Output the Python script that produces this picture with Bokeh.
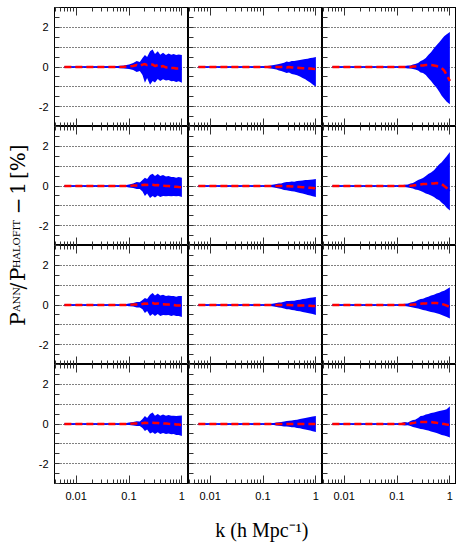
import math
from bokeh.plotting import figure
from bokeh.models import GridBox, FixedTicker, LogAxis, Range1d, CustomJSTickFormatter
from bokeh.embed import file_html
from bokeh.resources import INLINE
from bokeh.core.properties import value

# ---------------- data ----------------
k = [0.006, 0.01, 0.02, 0.04, 0.06, 0.08, 0.1, 0.12, 0.14, 0.16, 0.18, 0.2, 0.22,
     0.25, 0.28, 0.31, 0.35, 0.39, 0.44, 0.5, 0.56, 0.63, 0.7, 0.78, 0.87, 1.0]

upper_r0c0 = [0.03, 0.03, 0.03, 0.04, 0.05, 0.07, 0.12, 0.2, 0.3, 0.25, 0.45, 0.6, 0.5, 0.8, 0.88, 0.65, 0.8, 0.62, 0.72, 0.6, 0.68, 0.62, 0.65, 0.6, 0.63, 0.6]
lower_r0c0 = [-0.03, -0.03, -0.03, -0.04, -0.05, -0.07, -0.1, -0.15, -0.25, -0.2, -0.4, -0.8, -0.55, -0.9, -0.7, -0.78, -0.6, -0.7, -0.62, -0.68, -0.65, -0.72, -0.7, -0.75, -0.72, -0.8]
mean_r0c0 = [0, 0, 0, 0, 0, 0.01, 0.03, 0.05, 0.1, 0.05, 0.12, 0.15, 0.1, 0.15, 0.12, 0.05, 0.1, 0.0, 0.05, -0.02, 0.0, -0.05, -0.05, -0.08, -0.08, -0.12]

upper_r0c1 = [0.03] * 6 + [0.04, 0.05, 0.07, 0.1, 0.12, 0.15, 0.18, 0.22, 0.28, 0.25, 0.3, 0.3, 0.33, 0.35, 0.38, 0.4, 0.42, 0.45, 0.47, 0.5]
lower_r0c1 = [-0.03] * 6 + [-0.04, -0.05, -0.07, -0.1, -0.12, -0.18, -0.2, -0.25, -0.3, -0.28, -0.35, -0.38, -0.42, -0.48, -0.55, -0.62, -0.7, -0.78, -0.88, -1.0]
mean_r0c1 = [0] * 6 + [0, 0, 0, 0, 0, 0, 0, 0, -0.02, 0, -0.02, -0.03, -0.04, -0.05, -0.06, -0.06, -0.08, -0.08, -0.09, -0.1]

upper_r0c2 = [0.03] * 6 + [0.03, 0.04, 0.05, 0.07, 0.08, 0.12, 0.15, 0.2, 0.3, 0.35, 0.45, 0.6, 0.75, 0.95, 1.1, 1.25, 1.4, 1.55, 1.65, 1.76]
lower_r0c2 = [-0.03] * 6 + [-0.03, -0.04, -0.05, -0.07, -0.08, -0.1, -0.12, -0.18, -0.28, -0.3, -0.4, -0.55, -0.7, -0.9, -1.05, -1.25, -1.45, -1.6, -1.75, -1.88]
mean_r0c2 = [0] * 6 + [0, 0, 0, 0, 0, 0.02, 0.03, 0.05, 0.07, 0.08, 0.1, 0.1, 0.1, 0.08, 0.05, 0.0, -0.05, -0.18, -0.4, -0.7]

upper_r1c0 = [0.03] * 6 + [0.08, 0.12, 0.2, 0.18, 0.3, 0.42, 0.35, 0.55, 0.62, 0.5, 0.6, 0.5, 0.55, 0.48, 0.5, 0.45, 0.45, 0.42, 0.45, 0.42]
lower_r1c0 = [-0.03] * 6 + [-0.07, -0.1, -0.15, -0.15, -0.28, -0.5, -0.38, -0.6, -0.5, -0.58, -0.48, -0.55, -0.5, -0.52, -0.5, -0.52, -0.5, -0.52, -0.5, -0.55]
mean_r1c0 = [0] * 6 + [0.01, 0.02, 0.03, 0.03, 0.05, 0.06, 0.05, 0.07, 0.06, 0.04, 0.05, 0.02, 0.02, 0, 0, -0.02, -0.03, -0.04, -0.05, -0.06]

upper_r1c1 = [0.03] * 6 + [0.03, 0.04, 0.05, 0.07, 0.1, 0.12, 0.12, 0.18, 0.2, 0.2, 0.23, 0.22, 0.25, 0.26, 0.28, 0.3, 0.3, 0.32, 0.33, 0.35]
lower_r1c1 = [-0.03] * 6 + [-0.03, -0.04, -0.05, -0.07, -0.1, -0.12, -0.15, -0.2, -0.22, -0.24, -0.26, -0.28, -0.32, -0.35, -0.38, -0.42, -0.45, -0.48, -0.52, -0.55]
mean_r1c1 = [0] * 14 + [-0.01, -0.01, -0.02, -0.03, -0.04, -0.05, -0.06, -0.07, -0.08, -0.09, -0.1, -0.12]

upper_r1c2 = [0.03] * 6 + [0.03, 0.04, 0.06, 0.08, 0.12, 0.15, 0.22, 0.3, 0.35, 0.4, 0.5, 0.6, 0.68, 0.8, 0.95, 1.1, 1.2, 1.35, 1.5, 1.72]
lower_r1c2 = [-0.03] * 6 + [-0.03, -0.04, -0.05, -0.07, -0.1, -0.12, -0.18, -0.2, -0.25, -0.3, -0.38, -0.42, -0.48, -0.55, -0.65, -0.72, -0.85, -0.95, -1.1, -1.24]
mean_r1c2 = [0] * 6 + [0, 0, 0, 0, 0.01, 0.02, 0.04, 0.06, 0.08, 0.1, 0.1, 0.11, 0.12, 0.13, 0.15, 0.14, 0.1, 0.0, -0.1, -0.25]

upper_r2c0 = [0.03] * 6 + [0.07, 0.1, 0.15, 0.15, 0.25, 0.35, 0.3, 0.5, 0.6, 0.48, 0.58, 0.48, 0.52, 0.45, 0.48, 0.45, 0.45, 0.42, 0.45, 0.45]
lower_r2c0 = [-0.03] * 6 + [-0.06, -0.08, -0.12, -0.12, -0.22, -0.4, -0.3, -0.55, -0.45, -0.55, -0.45, -0.55, -0.5, -0.52, -0.5, -0.55, -0.52, -0.55, -0.55, -0.6]
mean_r2c0 = [0] * 6 + [0.01, 0.02, 0.03, 0.03, 0.05, 0.08, 0.06, 0.1, 0.1, 0.06, 0.08, 0.04, 0.04, 0.02, 0.02, 0, 0, -0.02, -0.02, -0.03]

upper_r2c1 = [0.03] * 6 + [0.03, 0.04, 0.05, 0.07, 0.1, 0.12, 0.12, 0.16, 0.2, 0.2, 0.22, 0.22, 0.25, 0.27, 0.3, 0.32, 0.34, 0.36, 0.38, 0.4]
lower_r2c1 = [-0.03] * 6 + [-0.03, -0.04, -0.05, -0.07, -0.1, -0.12, -0.14, -0.18, -0.22, -0.22, -0.25, -0.26, -0.3, -0.32, -0.35, -0.38, -0.4, -0.43, -0.46, -0.5]
mean_r2c1 = [0] * 16 + [-0.01, -0.01, -0.02, -0.02, -0.03, -0.03, -0.04, -0.04, -0.05, -0.05]

upper_r2c2 = [0.03] * 6 + [0.03, 0.04, 0.06, 0.08, 0.12, 0.15, 0.18, 0.25, 0.3, 0.32, 0.38, 0.42, 0.48, 0.52, 0.58, 0.62, 0.68, 0.72, 0.8, 0.9]
lower_r2c2 = [-0.03] * 6 + [-0.03, -0.04, -0.05, -0.07, -0.1, -0.12, -0.15, -0.18, -0.22, -0.25, -0.28, -0.32, -0.35, -0.38, -0.42, -0.45, -0.5, -0.55, -0.6, -0.68]
mean_r2c2 = [0] * 6 + [0, 0, 0, 0, 0.01, 0.02, 0.03, 0.05, 0.06, 0.07, 0.08, 0.09, 0.1, 0.1, 0.1, 0.08, 0.05, 0.02, -0.03, -0.1]

upper_r3c0 = [0.03] * 6 + [0.07, 0.1, 0.14, 0.12, 0.25, 0.4, 0.3, 0.5, 0.58, 0.42, 0.5, 0.42, 0.48, 0.42, 0.45, 0.42, 0.42, 0.4, 0.42, 0.43]
lower_r3c0 = [-0.03] * 6 + [-0.05, -0.07, -0.1, -0.1, -0.2, -0.35, -0.28, -0.48, -0.42, -0.5, -0.42, -0.5, -0.45, -0.5, -0.48, -0.52, -0.5, -0.55, -0.55, -0.6]
mean_r3c0 = [0] * 6 + [0.01, 0.02, 0.03, 0.03, 0.04, 0.06, 0.05, 0.06, 0.06, 0.05, 0.05, 0.03, 0.03, 0.02, 0.01, 0, 0, -0.02, -0.03, -0.05]

upper_r3c1 = [0.03] * 6 + [0.03, 0.03, 0.04, 0.05, 0.07, 0.09, 0.1, 0.13, 0.15, 0.16, 0.18, 0.2, 0.22, 0.25, 0.28, 0.3, 0.33, 0.35, 0.38, 0.4]
lower_r3c1 = [-0.03] * 6 + [-0.03, -0.03, -0.04, -0.05, -0.07, -0.09, -0.1, -0.12, -0.13, -0.14, -0.16, -0.17, -0.2, -0.22, -0.25, -0.28, -0.3, -0.33, -0.37, -0.4]
mean_r3c1 = [0] * 26

upper_r3c2 = [0.03] * 6 + [0.03, 0.05, 0.1, 0.08, 0.15, 0.2, 0.22, 0.3, 0.4, 0.42, 0.48, 0.5, 0.55, 0.58, 0.62, 0.65, 0.68, 0.7, 0.75, 0.9]
lower_r3c2 = [-0.03] * 6 + [-0.03, -0.05, -0.08, -0.06, -0.1, -0.15, -0.18, -0.22, -0.25, -0.27, -0.3, -0.33, -0.38, -0.42, -0.45, -0.5, -0.55, -0.58, -0.62, -0.68]
mean_r3c2 = [0] * 6 + [0, 0, 0.01, 0.01, 0.03, 0.05, 0.07, 0.1, 0.1, 0.1, 0.1, 0.1, 0.1, 0.08, 0.06, 0.04, 0.02, 0, -0.03, -0.05]

panels = [
    [(upper_r0c0, lower_r0c0, mean_r0c0), (upper_r0c1, lower_r0c1, mean_r0c1), (upper_r0c2, lower_r0c2, mean_r0c2)],
    [(upper_r1c0, lower_r1c0, mean_r1c0), (upper_r1c1, lower_r1c1, mean_r1c1), (upper_r1c2, lower_r1c2, mean_r1c2)],
    [(upper_r2c0, lower_r2c0, mean_r2c0), (upper_r2c1, lower_r2c1, mean_r2c1), (upper_r2c2, lower_r2c2, mean_r2c2)],
    [(upper_r3c0, lower_r3c0, mean_r3c0), (upper_r3c1, lower_r3c1, mean_r3c1), (upper_r3c2, lower_r3c2, mean_r3c2)],
]

x_major = [0.01, 0.1, 1]
x_minor = [0.004, 0.005, 0.006, 0.007, 0.008, 0.009,
           0.02, 0.03, 0.04, 0.05, 0.06, 0.07, 0.08, 0.09,
           0.2, 0.3, 0.4, 0.5, 0.6, 0.7, 0.8, 0.9]
x_labels = {0.01: "0.01", 0.1: "0.1", 1: "1"}
y_major = [-2, 0, 2]
y_minor = [-3, -2.5, -2, -1.5, -1, -0.5, 0, 0.5, 1, 1.5, 2, 2.5, 3]
y_labels = {-2: "-2", 0: "0", 2: "2"}
y_grid = [-2, -1, 0, 1, 2]

TICK_FONT = "Liberation Sans"
TICK_COLOR = "#333333"

TOP_PAD = 7        # space above the first row
FRAME_W = 134
FRAME_H = 119
LEFT_BORDER = 24   # room for y tick labels
BOTTOM_BORDER = 28 # room for x tick labels
YLAB_W = 30
XLAB_H = 32


def style_axis(ax, major_in, minor_in, show_labels, standoff, vertical_hidden=False):
    ax.axis_line_color = "black"
    ax.axis_line_width = 1
    ax.major_tick_in = major_in
    ax.major_tick_out = 0
    ax.minor_tick_in = minor_in
    ax.minor_tick_out = 0
    ax.major_tick_line_color = TICK_COLOR
    ax.minor_tick_line_color = TICK_COLOR
    ax.major_label_text_font = TICK_FONT
    ax.major_label_text_color = "black"
    ax.major_label_text_font_size = "11px"
    if show_labels:
        ax.major_label_standoff = standoff
    else:
        ax.formatter = CustomJSTickFormatter(code="return '';")
        ax.major_label_standoff = 0
        if vertical_hidden:
            ax.major_label_orientation = "vertical"


def make_panel(r, c, up, lo, mean):
    left = (c == 0)
    bottom = (r == 3)
    p = figure(x_axis_type="log", x_range=Range1d(0.0039, 1.334), y_range=Range1d(-3, 3),
               frame_width=FRAME_W, frame_height=FRAME_H, output_backend="svg", toolbar_location=None,
               min_border_left=LEFT_BORDER if left else 0, min_border_right=0,
               min_border_top=TOP_PAD if r == 0 else 0,
               min_border_bottom=BOTTOM_BORDER if bottom else 0,
               background_fill_color="white", border_fill_color="white")
    p.outline_line_color = "black"
    p.outline_line_width = 1

    xa = p.xaxis[0]
    xa.ticker = FixedTicker(ticks=x_major, minor_ticks=x_minor)
    if bottom:
        xa.major_label_overrides = x_labels
    style_axis(xa, 8, 4, bottom, 8, vertical_hidden=True)

    top = LogAxis(ticker=FixedTicker(ticks=x_major, minor_ticks=x_minor))
    style_axis(top, 8, 4, False, 0, vertical_hidden=True)
    p.add_layout(top, "above")

    ya = p.yaxis[0]
    ya.ticker = FixedTicker(ticks=y_major, minor_ticks=y_minor)
    if left:
        ya.major_label_overrides = y_labels
    style_axis(ya, 5, 5, left, 6)

    p.xgrid.visible = False
    p.ygrid.ticker = FixedTicker(ticks=y_grid)
    p.ygrid.grid_line_color = "black"
    p.ygrid.grid_line_dash = "1 2"
    p.ygrid.grid_line_width = 1

    p.varea(x=k, y1=lo, y2=up, fill_color="#0000ff", fill_alpha=1.0)
    p.line(x=k, y=mean, line_color="#0000ff", line_width=1.5)
    p.line(x=k, y=mean, line_color="#ff0000", line_width=2.5, line_dash="7 4")
    return p


children = []
for r in range(4):
    for c in range(3):
        up, lo, mean = panels[r][c]
        children.append((make_panel(r, c, up, lo, mean), r, c + 1))

# y-axis title (rotated), composed of main text and subscripts
YLAB_H = TOP_PAD + 4 * FRAME_H
ylab = figure(width=YLAB_W, height=YLAB_H, x_range=Range1d(0, YLAB_W), y_range=Range1d(0, YLAB_H),
              output_backend="svg", toolbar_location=None, min_border=0,
              x_axis_location=None, y_axis_location=None,
              background_fill_color="white", border_fill_color="white")
ylab.outline_line_color = None
ylab.grid.visible = False
# positions are measured from the bottom of this strip (which ends at the lowest panel's frame)
ylab.text(x=[17, 17, 17, 17, 17, 17], y=[140, 179, 188, 260, 281, 298],
          text=["P", "/", "P", "\u2212", "1", "[%]"], angle=math.pi / 2,
          text_font=value("DejaVu Serif"), text_font_size="20px",
          text_align="left", text_baseline="alphabetic", text_color="black")
ylab.text(x=[15.5, 15.5], y=[155, 202], text=["ANN", "HALOFIT"], angle=math.pi / 2,
          text_font=value("DejaVu Serif"), text_font_size="10px",
          text_align="left", text_baseline="alphabetic", text_color="black")
children.append((ylab, 0, 0, 4, 1))

# x-axis title
XLAB_W = LEFT_BORDER + 3 * FRAME_W
xlab = figure(width=XLAB_W, height=XLAB_H, x_range=Range1d(0, XLAB_W), y_range=Range1d(0, XLAB_H),
              output_backend="svg", toolbar_location=None, min_border=0,
              x_axis_location=None, y_axis_location=None,
              background_fill_color="white", border_fill_color="white")
xlab.outline_line_color = None
xlab.grid.visible = False
xlab.text(x=[LEFT_BORDER + 1.5 * FRAME_W], y=[14], text=["k  (h  Mpc\u207b\u00b9)"],
          text_font=value("Liberation Serif"), text_font_size="20px",
          text_align="center", text_baseline="alphabetic", text_color="black")
children.append((xlab, 4, 1, 1, 3))

layout = GridBox(children=children, spacing=0)

open("out.html", "w").write(file_html(layout, INLINE))
